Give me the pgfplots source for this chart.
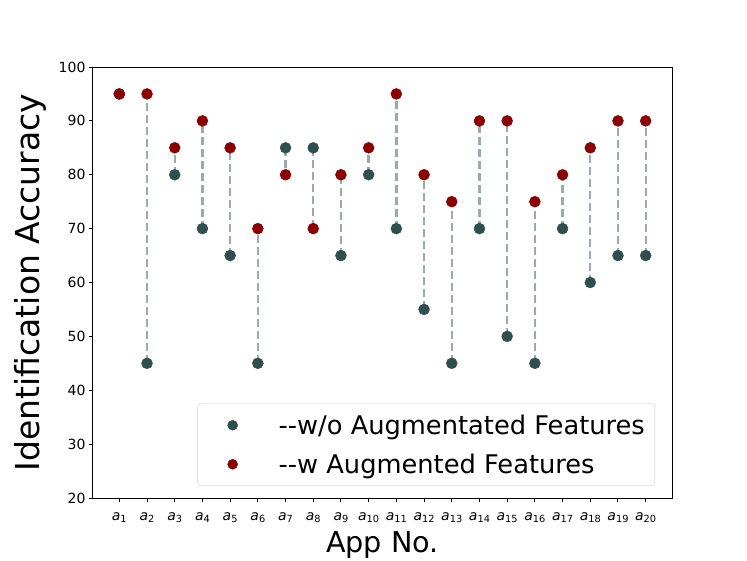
\documentclass[border=0pt]{standalone}
\usepackage{pgfplots}
\pgfplotsset{compat=1.18}
\usepackage{fontspec}
\setmainfont{DejaVu Sans}
\definecolor{wocol}{HTML}{2F4F4F}
\definecolor{wcol}{HTML}{8B0000}
\definecolor{stemcol}{RGB}{152,172,172}
\newcommand{\dd}{-\kern0pt-}
\newcommand{\app}[1]{\textit{a}\raisebox{-0.3ex}{\fontsize{9.8}{10}\selectfont #1}}

\pgfplotstableread{
app wo w
1 95 95
2 45 95
3 80 85
4 70 90
5 65 85
6 45 70
7 85 80
8 85 70
9 65 80
10 80 85
11 70 95
12 55 80
13 45 75
14 70 90
15 50 90
16 45 75
17 70 80
18 60 85
19 65 90
20 65 90
}\acc

\begin{document}
\begin{tikzpicture}
\path[use as bounding box] (-93pt,-62pt) rectangle (654pt,498pt);
\begin{axis}[
    at={(0,0)}, anchor=south west,
    scale only axis,
    width=579pt, height=431pt,
    xmin=0.05, xmax=20.95,
    ymin=20, ymax=100,
    xtick={1,...,20},
    xticklabels={\app{1},\app{2},\app{3},\app{4},\app{5},\app{6},\app{7},\app{8},\app{9},\app{10},
                 \app{11},\app{12},\app{13},\app{14},\app{15},\app{16},\app{17},\app{18},\app{19},\app{20}},
    ytick={20,30,...,100},
    tick align=outside,
    xtick pos=bottom, ytick pos=left,
    major tick length=4pt,
    tick style={line width=1pt, black},
    axis line style={line width=1pt},
    ticklabel style={font=\fontsize{14}{16}\selectfont},
    xticklabel style={yshift=-7pt},
    /pgf/number format/assume math mode=true,
    xlabel={App No.},
    ylabel={Identification Accuracy},
    xlabel style={font=\fontsize{28.7}{32}\selectfont},
    ylabel style={font=\fontsize{33}{36}\selectfont},
    xlabel shift=2pt,
    ylabel shift=6pt,
    unbounded coords=jump,
    legend style={at={(1,0)}, anchor=south east, xshift=-17pt, yshift=12pt,
        draw=black!20, rounded corners=3pt, fill=white,
        font=\fontsize{25.7}{28}\selectfont, row sep=14pt, inner xsep=8pt, inner ysep=9pt},
    legend cell align=left,
    legend image code/.code={\path[draw=none, fill=none] (0pt,-5pt) rectangle (71pt,5pt);
        \draw[#1, mark size=5pt] plot coordinates {(27pt,0pt)};},
]
\addplot[only marks, mark=*, mark size=5.5pt, color=wocol] table[x=app, y=wo] {\acc};
\addlegendentry{\dd w/o Augmentated Features}
\addplot[only marks, mark=*, mark size=5.5pt, color=wcol] table[x=app, y=w] {\acc};
\addlegendentry{\dd w Augmented Features}
% stems between the two values
\addplot[forget plot, stemcol, line width=2.3pt, dash pattern=on 8pt off 4pt] coordinates {
(1,95) (1,95) (1,nan)
(2,45) (2,95) (2,nan)
(3,80) (3,85) (3,nan)
(4,70) (4,90) (4,nan)
(5,65) (5,85) (5,nan)
(6,45) (6,70) (6,nan)
(7,85) (7,80) (7,nan)
(8,85) (8,70) (8,nan)
(9,65) (9,80) (9,nan)
(10,80) (10,85) (10,nan)
(11,70) (11,95) (11,nan)
(12,55) (12,80) (12,nan)
(13,45) (13,75) (13,nan)
(14,70) (14,90) (14,nan)
(15,50) (15,90) (15,nan)
(16,45) (16,75) (16,nan)
(17,70) (17,80) (17,nan)
(18,60) (18,85) (18,nan)
(19,65) (19,90) (19,nan)
(20,65) (20,90) (20,nan)
};
\end{axis}
\end{tikzpicture}
\end{document}
